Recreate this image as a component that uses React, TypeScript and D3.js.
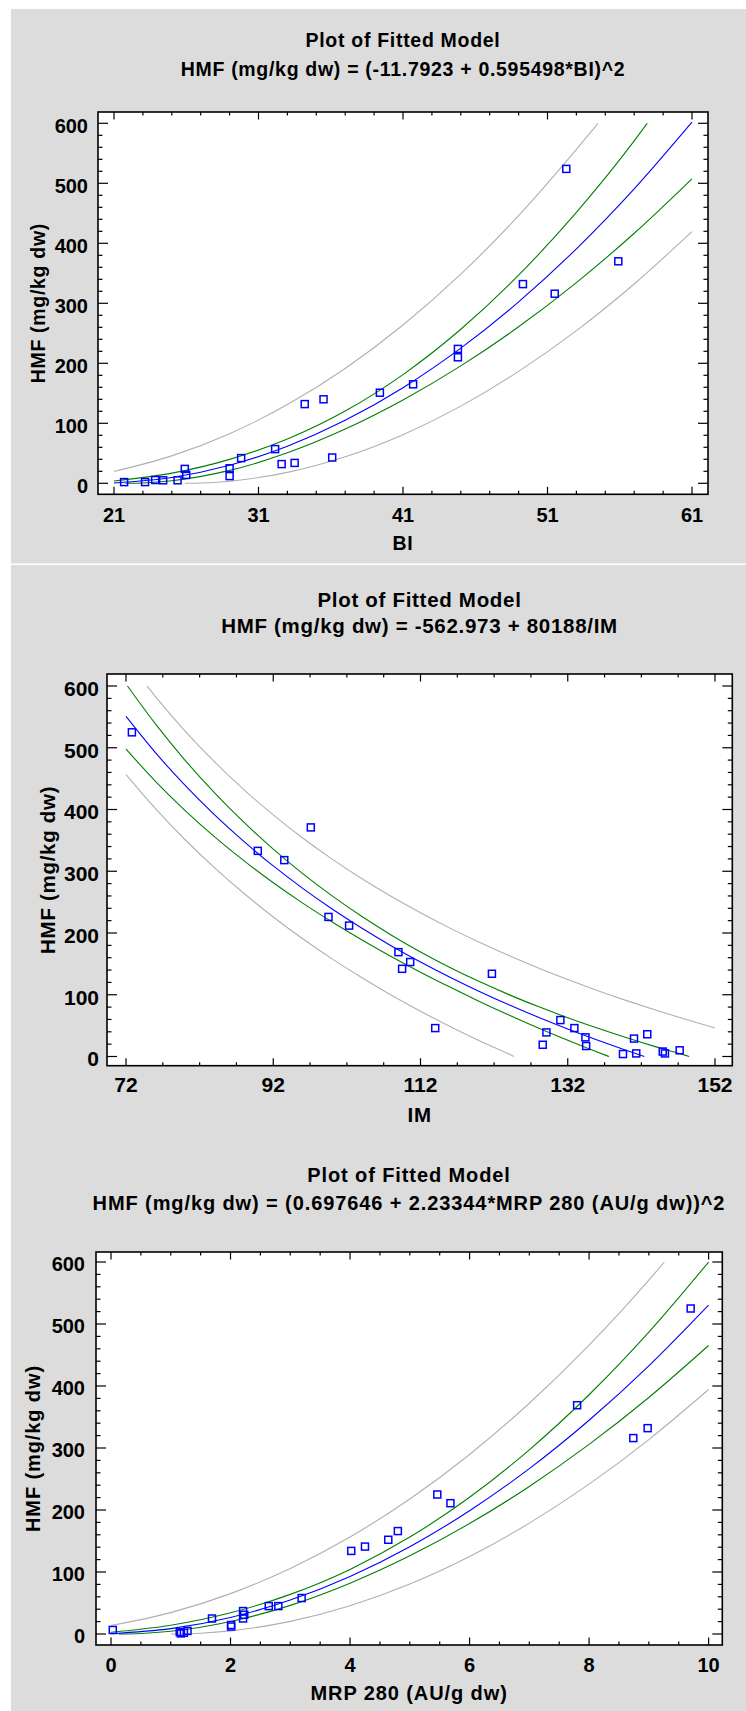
import React from 'react';
import * as d3 from 'd3';

type Pt = [number, number];

// shared y axis (HMF)
const hmfTicks = [0, 100, 200, 300, 400, 500, 600];
const yLabel = 'HMF (mg/kg dw)';

// ---- panel 1: BI
const biTicks = [21, 31, 41, 51, 61];
const biPoints: Pt[] = [
  [21.7, 2], [23.15, 2], [23.85, 5.5], [24.4, 5], [25.4, 5], [25.9, 24], [26.0, 14],
  [29.0, 25], [29.0, 12], [29.8, 42], [32.15, 57], [32.6, 32], [33.5, 34], [34.2, 132],
  [35.5, 140], [36.1, 43], [39.4, 151], [41.7, 165], [44.8, 224], [44.8, 210],
  [49.3, 332], [51.5, 316], [52.3, 524], [55.9, 370],
];
const biFit: Pt[] = [
  [21, 0.5], [25, 9.6], [29, 30.0], [33, 61.8], [37, 104.9], [41, 159.3], [45, 225.2],
  [49, 302.3], [53, 390.8], [57, 490.7], [61, 601.9],
];
const biConfUpper: Pt[] = [
  [21, 3.8], [25, 16.9], [29, 39.9], [33, 73.8], [37, 120.4], [41, 181.2], [45, 256.7],
  [49, 346.9], [53, 451.6], [57, 570.7], [57.9, 600],
];
const biConfLower: Pt[] = [
  [21.8, 0], [23, 0.6], [25, 4.3], [29, 21.5], [33, 50.8], [37, 90.4], [41, 138.9],
  [45, 195.7], [49, 260.8], [53, 334.5], [57, 416.7], [61, 507.6],
];
const biPredUpper: Pt[] = [
  [21, 19.8], [25, 45.7], [29, 82.7], [33, 131.2], [37, 191.4], [41, 263.8], [45, 348.5],
  [49, 446.0], [53, 556.4], [54.5, 600],
];
const biPredLower: Pt[] = [
  [25.9, 0], [27, 0.4], [29, 3.5], [33, 18.2], [37, 44.2], [41, 81.1], [45, 128.6],
  [49, 186.5], [53, 254.4], [57, 332.2], [61, 419.6],
];

// ---- panel 2: IM
const imTicks = [72, 92, 112, 132, 152];
const imPoints: Pt[] = [
  [72.8, 525], [89.9, 333], [93.5, 318], [97.1, 371], [99.5, 226], [102.3, 212],
  [109.0, 169], [109.5, 142], [110.6, 153], [114.0, 46], [121.7, 134], [128.6, 19],
  [129.1, 39], [131.0, 59], [132.9, 46], [134.4, 31], [134.5, 17], [139.5, 4],
  [141.0, 29], [141.3, 5], [142.8, 36], [144.9, 8], [145.2, 5], [147.2, 10],
];
const imFit: Pt[] = [
  [72, 550.8], [76, 492.1], [80, 439.4], [84, 391.7], [88, 348.3], [92, 308.6],
  [96, 272.3], [100, 238.9], [104, 208.1], [108, 179.5], [112, 153.0], [116, 128.3],
  [120, 105.3], [124, 83.7], [128, 63.5], [132, 44.5], [136, 26.7], [140, 9.8], [142.4, 0],
];
const imConfUpper: Pt[] = [
  [72.2, 600], [76, 538.6], [80, 480.1], [84, 427.2], [88, 379.4], [92, 335.9],
  [96, 296.2], [100, 260.1], [104, 227.0], [108, 196.9], [112, 169.4], [116, 144.3],
  [120, 121.3], [124, 100.2], [128, 80.8], [132, 62.7], [136, 46.0], [140, 30.3],
  [144, 15.6], [148, 1.8], [148.5, 0],
];
const imConfLower: Pt[] = [
  [72, 497.8], [76, 445.7], [80, 398.7], [84, 356.1], [88, 317.1], [92, 281.4],
  [96, 248.4], [100, 217.8], [104, 189.1], [108, 162.1], [112, 136.6], [116, 112.4],
  [120, 89.2], [124, 67.2], [128, 46.2], [132, 26.3], [136, 7.3], [137.6, 0],
];
const imPredUpper: Pt[] = [
  [74.85, 600], [76, 582.9], [80, 527.4], [84, 477.4], [88, 432.2], [92, 391.3],
  [96, 353.9], [100, 319.7], [104, 288.3], [108, 259.4], [112, 232.7], [116, 207.9],
  [120, 184.9], [124, 163.4], [128, 143.4], [132, 124.6], [136, 107.0], [140, 90.5],
  [144, 74.9], [148, 60.2], [152, 46.3],
];
const imPredLower: Pt[] = [
  [72, 456.5], [76, 401.4], [80, 351.4], [84, 305.9], [88, 264.3], [92, 226.0],
  [96, 190.7], [100, 158.1], [104, 127.8], [108, 99.6], [112, 73.3], [116, 48.7],
  [120, 25.6], [124, 4.0], [124.7, 0],
];

// ---- panel 3: MRP 280
const mrpTicks = [0, 2, 4, 6, 8, 10];
const mrpPoints: Pt[] = [
  [0.03, 6.5], [1.15, 3], [1.17, 1], [1.22, 2], [1.28, 5], [1.69, 25], [2.01, 14.5],
  [2.01, 12], [2.21, 37], [2.21, 25], [2.23, 31], [2.64, 45], [2.80, 45], [3.19, 58],
  [4.02, 134], [4.25, 141], [4.64, 152], [4.80, 166], [5.46, 225], [5.68, 211],
  [7.80, 369], [8.74, 316], [8.98, 332], [9.70, 525],
];
const mrpFit: Pt[] = [
  [0, 0.5], [1, 8.6], [2, 26.7], [3, 54.7], [4, 92.8], [5, 140.8], [6, 198.8],
  [7, 266.7], [8, 344.7], [9, 432.6], [10, 530.5],
];
const mrpConfUpper: Pt[] = [
  [0, 2.8], [1, 14.1], [2, 34.2], [3, 63.9], [4, 104.2], [5, 156.3], [6, 220.5],
  [7, 297.1], [8, 385.9], [9, 486.9], [10, 599.9],
];
const mrpConfLower: Pt[] = [
  [0.13, 0], [0.5, 0.8], [1, 4.4], [2, 20.1], [3, 46.2], [4, 82.0], [5, 126.1],
  [6, 178.1], [7, 238.0], [8, 305.8], [9, 381.5], [10, 465.3],
];
const mrpPredUpper: Pt[] = [
  [0, 13.6], [1, 34.5], [2, 65.1], [3, 105.7], [4, 156.5], [5, 217.7], [6, 289.6],
  [7, 372.2], [8, 465.9], [9, 570.7], [9.26, 600],
];
const mrpPredLower: Pt[] = [
  [1.0, 0], [1.5, 1.3], [2, 5.1], [3, 20.4], [4, 45.6], [5, 80.5], [6, 125.0],
  [7, 178.8], [8, 241.7], [9, 313.6], [10, 394.3],
];

const FONT = "'Liberation Sans', Arial, Helvetica, sans-serif";
const BLUE = '#0000ff';
const GREEN = '#008000';
const GREY = '#b0b0b0';

interface PanelCfg {
  id: string;
  title: string;
  subtitle: string;
  titleX: number;
  titleY: [number, number];
  titleSize: number;
  titleSpacing: number;
  frame: { x0: number; x1: number; y0: number; y1: number };
  xDomain: [number, number];
  xRange: [number, number];
  yRange: [number, number];
  xTicks: number[];
  xMinor: number;
  tickSize: number;
  yLabelEnd: number;
  xLabelY: number;
  xTitle: string;
  xTitleY: number;
  yTitleX: number;
  points: Pt[];
  fit: Pt[];
  conf: Pt[][];
  pred: Pt[][];
}

const panels: PanelCfg[] = [
  {
    id: 'p1',
    title: 'Plot of Fitted Model',
    subtitle: 'HMF (mg/kg dw) = (-11.7923 + 0.595498*BI)^2',
    titleX: 403, titleY: [46.7, 76], titleSize: 19.5, titleSpacing: 0.7,
    frame: { x0: 98, x1: 708, y0: 112, y1: 494.3 },
    xDomain: [21, 61], xRange: [114, 692], yRange: [483.3, 123.3],
    xTicks: biTicks, xMinor: 2, tickSize: 20,
    yLabelEnd: 88, xLabelY: 522, xTitle: 'BI', xTitleY: 550, yTitleX: 45,
    points: biPoints, fit: biFit, conf: [biConfUpper, biConfLower], pred: [biPredUpper, biPredLower],
  },
  {
    id: 'p2',
    title: 'Plot of Fitted Model',
    subtitle: 'HMF (mg/kg dw) = -562.973 + 80188/IM',
    titleX: 419.5, titleY: [606.7, 633.3], titleSize: 20.5, titleSpacing: 0.7,
    frame: { x0: 107, x1: 732.3, y0: 674, y1: 1065.7 },
    xDomain: [72, 152], xRange: [126, 715], yRange: [1056.5, 686],
    xTicks: imTicks, xMinor: 5, tickSize: 21,
    yLabelEnd: 99, xLabelY: 1092.3, xTitle: 'IM', xTitleY: 1122, yTitleX: 55,
    points: imPoints, fit: imFit, conf: [imConfUpper, imConfLower], pred: [imPredUpper, imPredLower],
  },
  {
    id: 'p3',
    title: 'Plot of Fitted Model',
    subtitle: 'HMF (mg/kg dw) = (0.697646 + 2.23344*MRP 280 (AU/g dw))^2',
    titleX: 409, titleY: [1181.7, 1210], titleSize: 20, titleSpacing: 0.9,
    frame: { x0: 96, x1: 722.3, y0: 1252, y1: 1645 },
    xDomain: [0, 10], xRange: [111, 708.6], yRange: [1634, 1262],
    xTicks: mrpTicks, xMinor: 0.5, tickSize: 20,
    yLabelEnd: 85, xLabelY: 1672, xTitle: 'MRP 280 (AU/g dw)', xTitleY: 1700, yTitleX: 40,
    points: mrpPoints, fit: mrpFit, conf: [mrpConfUpper, mrpConfLower], pred: [mrpPredUpper, mrpPredLower],
  },
];

const Panel: React.FC<{ cfg: PanelCfg }> = ({ cfg }) => {
  const { frame } = cfg;
  const x = d3.scaleLinear().domain(cfg.xDomain).range(cfg.xRange);
  const y = d3.scaleLinear().domain([0, 600]).range(cfg.yRange);
  const line = d3.line<Pt>()
    .x(d => x(d[0]))
    .y(d => y(d[1]))
    .curve(d3.curveMonotoneX);

  const [xa, xb] = cfg.xDomain;
  const xMinorTicks = d3.range(xa, xb + cfg.xMinor / 2, cfg.xMinor)
    .filter(v => !cfg.xTicks.some(t => Math.abs(t - v) < 1e-6));
  const yMinorTicks = d3.range(0, 601, 20).filter(v => v % 100 !== 0);

  const frameMidX = (frame.x0 + frame.x1) / 2;
  const frameMidY = (frame.y0 + frame.y1) / 2;
  const sq = 7;

  return (
    <g>
      <text x={cfg.titleX} y={cfg.titleY[0]} textAnchor="middle" fontSize={cfg.titleSize}
        letterSpacing={cfg.titleSpacing} fontWeight="bold">{cfg.title}</text>
      <text x={cfg.titleX} y={cfg.titleY[1]} textAnchor="middle" fontSize={cfg.titleSize}
        letterSpacing={cfg.titleSpacing} fontWeight="bold">{cfg.subtitle}</text>

      <rect x={frame.x0} y={frame.y0} width={frame.x1 - frame.x0} height={frame.y1 - frame.y0} fill="#fff" />

      <clipPath id={`clip-${cfg.id}`}>
        <rect x={frame.x0} y={frame.y0} width={frame.x1 - frame.x0} height={frame.y1 - frame.y0} />
      </clipPath>

      <g clipPath={`url(#clip-${cfg.id})`} fill="none" strokeWidth={1.1}>
        {cfg.pred.map((p, i) => <path key={`p${i}`} d={line(p) || ''} stroke={GREY} />)}
        {cfg.conf.map((p, i) => <path key={`c${i}`} d={line(p) || ''} stroke={GREEN} />)}
        <path d={line(cfg.fit) || ''} stroke={BLUE} />
        {cfg.points.map((p, i) => (
          <rect key={i} x={x(p[0]) - sq / 2} y={y(p[1]) - sq / 2} width={sq} height={sq}
            stroke={BLUE} strokeWidth={1.5} />
        ))}
      </g>

      {/* ticks on all four sides, pointing inward */}
      <g stroke="#000" strokeWidth={1.2}>
        {cfg.xTicks.map(t => (
          <g key={`xt${t}`}>
            <line x1={x(t)} x2={x(t)} y1={frame.y1} y2={frame.y1 - 7.5} />
            <line x1={x(t)} x2={x(t)} y1={frame.y0} y2={frame.y0 + 7.5} />
          </g>
        ))}
        {xMinorTicks.map(t => (
          <g key={`xm${t}`}>
            <line x1={x(t)} x2={x(t)} y1={frame.y1} y2={frame.y1 - 3.5} />
            <line x1={x(t)} x2={x(t)} y1={frame.y0} y2={frame.y0 + 3.5} />
          </g>
        ))}
        {hmfTicks.map(t => (
          <g key={`yt${t}`}>
            <line x1={frame.x0} x2={frame.x0 + 10} y1={y(t)} y2={y(t)} />
            <line x1={frame.x1} x2={frame.x1 - 10} y1={y(t)} y2={y(t)} />
          </g>
        ))}
        {yMinorTicks.map(t => (
          <g key={`ym${t}`}>
            <line x1={frame.x0} x2={frame.x0 + 4.5} y1={y(t)} y2={y(t)} />
            <line x1={frame.x1} x2={frame.x1 - 4.5} y1={y(t)} y2={y(t)} />
          </g>
        ))}
      </g>

      <rect x={frame.x0} y={frame.y0} width={frame.x1 - frame.x0} height={frame.y1 - frame.y0}
        fill="none" stroke="#000" strokeWidth={1.6} />

      <g fontSize={cfg.tickSize} fontWeight="bold">
        {hmfTicks.map(t => (
          <text key={`yl${t}`} x={cfg.yLabelEnd} y={y(t) + cfg.tickSize * 0.47} textAnchor="end">{t}</text>
        ))}
        {cfg.xTicks.map(t => (
          <text key={`xl${t}`} x={x(t)} y={cfg.xLabelY} textAnchor="middle">{t}</text>
        ))}
      </g>

      <text x={frameMidX} y={cfg.xTitleY} textAnchor="middle" fontSize={cfg.titleSize}
        letterSpacing={cfg.titleSpacing} fontWeight="bold">{cfg.xTitle}</text>
      <text transform={`translate(${cfg.yTitleX},${frameMidY}) rotate(-90)`} textAnchor="middle"
        fontSize={cfg.titleSize} letterSpacing={cfg.titleSpacing} fontWeight="bold">{yLabel}</text>
    </g>
  );
};

export default function App() {
  return (
    <svg width={746} height={1711} viewBox="0 0 746 1711"
      style={{ position: 'absolute', left: 0, top: 0, fontFamily: FONT }}>
      <rect x={0} y={0} width={746} height={1711} fill="#fff" />
      <rect x={11} y={9} width={735} height={554.5} fill="#dcdcdc" />
      <rect x={11} y={565} width={735} height={1146} fill="#dcdcdc" />
      {panels.map(p => <Panel key={p.id} cfg={p} />)}
    </svg>
  );
}
